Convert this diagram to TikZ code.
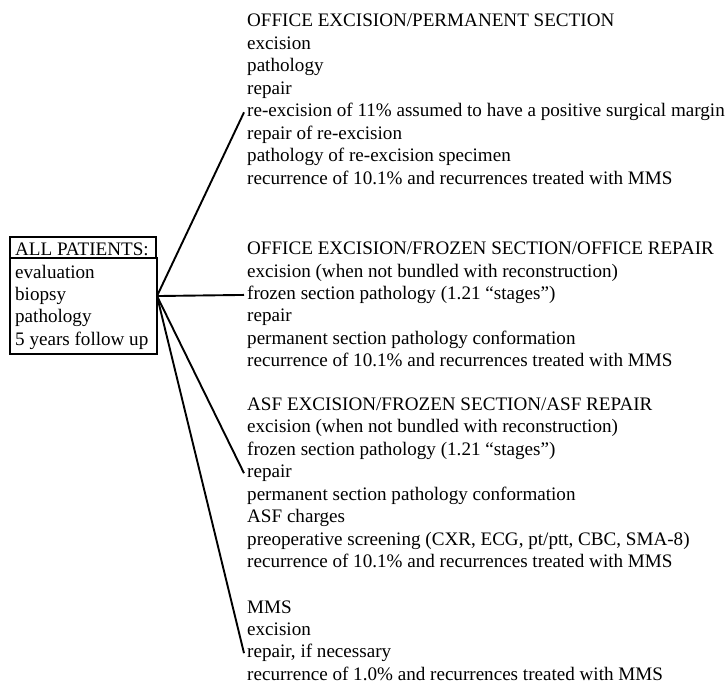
\documentclass[tikz,border=0pt]{standalone}
\usepackage{fontspec}
\setmainfont{Liberation Serif}
\usepackage{tikz}
\usetikzlibrary{positioning}

\tikzset{
    item/.style={anchor=base west, inner xsep=3pt, inner ysep=0pt,
                 font=\fontsize{19.1}{22.4}\selectfont},
    frame/.style={draw=black, line width=1.4pt}
}

\begin{document}
\begin{tikzpicture}[x=1pt,y=-1pt]
            \useasboundingbox (0,0) rectangle (728,684);

            \begin{scope}[every node/.style={item}]
                \node (all) at (12,256) {ALL PATIENTS:};
                \foreach \txt [count=\i] in {evaluation, biopsy, pathology, 5 years follow up}
                    \node (b-\i) at (12,256+22.3*\i) {\txt};

                \node (s1) at (244,27) {OFFICE EXCISION/PERMANENT SECTION};
                \foreach \txt [count=\i] in {excision, pathology, repair,
                        re-excision of 11\% assumed to have a positive surgical margin,
                        repair of re-excision, pathology of re-excision specimen,
                        recurrence of 10.1\% and recurrences treated with MMS}
                    \node (s1-\i) at (244,27+22.5*\i) {\txt};

                \node (s2) at (244,255) {OFFICE EXCISION/FROZEN SECTION/OFFICE REPAIR};
                \foreach \txt [count=\i] in {excision (when not bundled with reconstruction),
                        frozen section pathology (1.21 “stages”), repair,
                        permanent section pathology conformation,
                        recurrence of 10.1\% and recurrences treated with MMS}
                    \node (s2-\i) at (244,255+22.3*\i) {\txt};

                \node (s3) at (244,410) {ASF EXCISION/FROZEN SECTION/ASF REPAIR};
                \foreach \txt [count=\i] in {excision (when not bundled with reconstruction),
                        frozen section pathology (1.21 “stages”), repair,
                        permanent section pathology conformation, ASF charges,
                        {preoperative screening (CXR, ECG, pt/ptt, CBC, SMA-8)},
                        recurrence of 10.1\% and recurrences treated with MMS}
                    \node (s3-\i) at (244,410+22.5*\i) {\txt};

                \node (s4) at (244,613) {MMS};
                \foreach \txt [count=\i] in {excision, {repair, if necessary},
                        recurrence of 1.0\% and recurrences treated with MMS}
                    \node (s4-\i) at (244,613+22.4*\i) {\txt};
            \end{scope}

            \draw[frame] (10,237) rectangle (156,258);
            \draw[frame] (10,258) rectangle (157,354);
            \coordinate (hub) at (157,0 |- b-2.west);

            \begin{scope}[every edge/.style={draw=black, line width=1.9pt}]
                \path (hub) edge (s1-4.west);
                \path (hub) edge (s2-2.west);
                \path (hub) edge (s3-3.west);
                \path (hub) edge (s4-2.west);
            \end{scope}

\end{tikzpicture}
\end{document}
